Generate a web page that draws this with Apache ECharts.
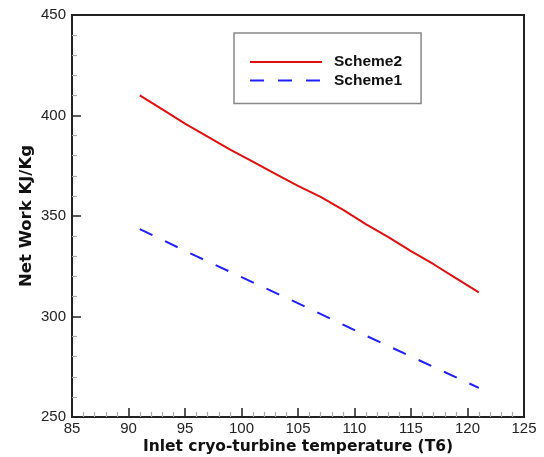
<!DOCTYPE html>
<html>
<head>
<meta charset="utf-8">
<script src="https://cdn.jsdelivr.net/npm/echarts@6/dist/echarts.min.js"></script>
<style>html,body{margin:0;padding:0;background:#fff}#c{width:544px;height:457px}</style>
</head>
<body>
<div id="c"></div>
<script>
var scheme2X = [91, 93, 95, 97, 99, 101, 103, 105, 107, 109, 111, 113, 115, 117, 119, 121];
var scheme2Y = [410, 403, 396, 389.5, 383, 377, 371, 365, 359.5, 353, 346, 339.5, 332.5, 326, 319, 312];
var scheme1X = [91, 96, 101, 106, 111, 116, 121];
var scheme1Y = [343.5, 330, 317, 304, 290.5, 277.5, 264.5];
var seriesNames = ['Scheme2', 'Scheme1'];
var xTitle = 'Inlet cryo-turbine temperature (T6)';
var yTitle = 'Net Work KJ/Kg';

function pairs(xs, ys) { return xs.map(function (x, i) { return [x, ys[i]]; }); }

var chart = echarts.init(document.getElementById('c'), null, {renderer: 'canvas'});
var labelFont = 'Liberation Sans, Arial, sans-serif';
var titleFont = 'DejaVu Sans, sans-serif';
chart.setOption({
  animation: false,
  backgroundColor: '#fff',
  grid: {left: 72, top: 15, right: 20, bottom: 40, show: true, borderColor: '#222', borderWidth: 2,
         containLabel: false, outerBoundsMode: 'none'},
  legend: {
    orient: 'vertical',
    left: 234, top: 33,
    padding: [21, 19, 15, 15],
    itemWidth: 72, itemHeight: 14, itemGap: 2.5,
    itemStyle: {opacity: 0},
    backgroundColor: '#fff',
    borderColor: '#888', borderWidth: 1.5, borderRadius: 0,
    textStyle: {fontFamily: labelFont, fontWeight: 'bold', fontSize: 15.5, color: '#111', padding: [0, 0, 0, 7]},
    data: seriesNames
  },
  xAxis: {
    type: 'value', min: 85, max: 125, interval: 5,
    name: xTitle, nameLocation: 'middle', nameGap: 22, nameMoveOverlap: false,
    nameTextStyle: {fontSize: 15.5, fontWeight: 'bold', color: '#111', fontFamily: titleFont},
    axisLine: {show: true, lineStyle: {color: '#222', width: 2}},
    axisTick: {show: true, inside: true, length: 9, lineStyle: {color: '#222', width: 1.5}},
    minorTick: {show: true, splitNumber: 5, length: 5, lineStyle: {color: '#aaa', width: 1.2}},
    axisLabel: {fontSize: 15, margin: 4, fontFamily: labelFont, color: '#222'},
    splitLine: {show: false}
  },
  yAxis: {
    type: 'value', min: 250, max: 450, interval: 50,
    name: yTitle, nameLocation: 'middle', nameGap: 37, nameMoveOverlap: false,
    nameTextStyle: {fontSize: 16.5, fontWeight: 'bold', color: '#111', fontFamily: titleFont},
    axisLine: {show: true, lineStyle: {color: '#222', width: 2}},
    axisTick: {show: true, inside: true, length: 9, lineStyle: {color: '#222', width: 1.5}},
    minorTick: {show: true, splitNumber: 5, length: 5, lineStyle: {color: '#aaa', width: 1.2}},
    axisLabel: {fontSize: 15, margin: 6, fontFamily: labelFont, color: '#222'},
    splitLine: {show: false}
  },
  series: [
    {name: seriesNames[0], type: 'line', data: pairs(scheme2X, scheme2Y), symbol: 'none', smooth: false,
     lineStyle: {color: '#e01010', width: 2}, itemStyle: {color: '#e01010'}},
    {name: seriesNames[1], type: 'line', data: pairs(scheme1X, scheme1Y), symbol: 'none', smooth: false,
     lineStyle: {color: '#2020ff', width: 2, type: [14, 14]}, itemStyle: {color: '#2020ff'}}
  ]
});
</script>
</body>
</html>
